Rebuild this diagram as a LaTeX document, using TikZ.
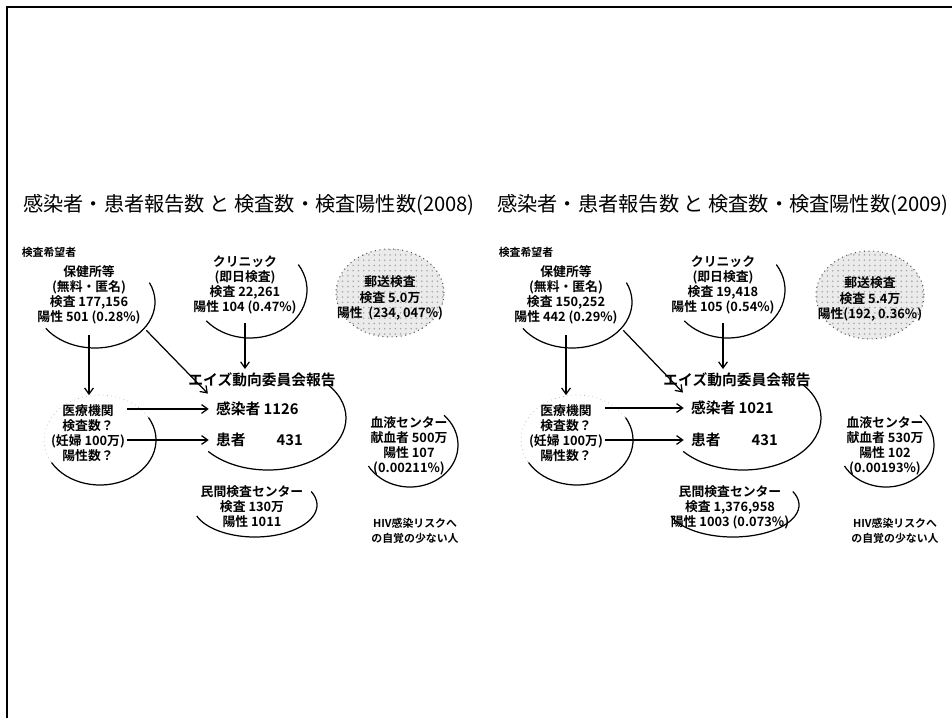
\documentclass[tikz,border=0pt]{standalone}
\usepackage{fontspec}
\newfontfamily\jp{Noto Sans CJK JP}
\newfontfamily\jpb{Noto Sans CJK JP Bold}
\usetikzlibrary{arrows.meta,patterns}

\tikzset{
  ttl/.style={font=\jp\fontsize{11.5}{13}\selectfont, anchor=west, inner sep=0pt},
  lbl/.style={font=\jpb\fontsize{7.3}{8.6}\selectfont, align=center, inner sep=1pt},
  tiny/.style={font=\jpb\fontsize{6.2}{8.2}\selectfont, align=center, inner sep=1pt},
  rep/.style={font=\jpb\fontsize{8.4}{10}\selectfont, inner sep=1pt},
  rim/.style={line width=0.7pt},
  faint/.style={gray!60, dotted, line width=0.4pt},
  mail/.style={gray!70!black, dotted, line width=0.6pt, fill=gray!16,
    postaction={pattern=dots, pattern color=gray!70}},
  arr/.style={-{Straight Barb[length=3.5pt,width=5pt]}, line width=0.7pt},
}

\begin{document}
\begin{tikzpicture}[x=0.02cm, y=0.02cm]
  \useasboundingbox (0,0) rectangle (952,-724);
  % frame
  \draw[line width=1.4pt] (7,-718) -- (7,-7) -- (952,-7);

  % ---- 2008 ----
  \node[ttl] (titleA) at (23,-205) {感染者・患者報告数 と 検査数・検査陽性数(2008)};
  \node[tiny] (kibouA) at (49,-252) {検査希望者};

  \draw[mail] (390,-293) ellipse [x radius=54, y radius=44];
  \node[lbl] (hokenA) at (89,-295) {保健所等\\(無料・匿名)\\検査 177,156\\陽性 501 (0.28\%)};
  \node[lbl] (clinicA) at (245,-285) {クリニック\\(即日検査)\\検査 22,261\\陽性 104 (0.47\%)};
  \node[lbl] (yusoA) at (390,-298) {郵送検査\\検査 5.0万\\陽性\ \ (234, 047\%)};
  \node[rep] (reportA) at (262,-380) {エイズ動向委員会報告};
  \node[rep, anchor=west] (kansenA) at (214,-409) {感染者 1126};
  \node[rep, anchor=west] (kanjaA) at (214,-440) {患者\hspace{2.1em}431};
  \node[lbl] (iryoA) at (88,-433) {医療機関\\検査数？\\(妊婦 100万)\\陽性数？};
  \node[lbl] (minkanA) at (252,-507) {民間検査センター\\検査 130万\\陽性 1011};
  \node[lbl] (ketsuekiA) at (409,-446) {血液センター\\献血者 500万\\陽性 107\\(0.00211\%)};
  \node[tiny] (riskA) at (415,-531) {HIV感染リスクへ\\の自覚の少ない人};

  % rims
  \draw[rim] (95,-302) ++(25:60 and 46) arc[start angle=25, end angle=-145, x radius=60, y radius=46];
  \draw[rim] (250,-290) ++(32:57 and 48) arc[start angle=32, end angle=-140, x radius=57, y radius=48];
  \draw[rim] (268,-418) ++(40:78 and 52) arc[start angle=40, end angle=-140, x radius=78, y radius=52];
  \draw[faint] (100,-440) ellipse [x radius=56, y radius=45];
  \draw[rim] (100,-440) ++(30:56 and 45) arc[start angle=30, end angle=-150, x radius=56, y radius=45];
  \draw[rim] (255,-505) ++(25:62 and 32) arc[start angle=25, end angle=-160, x radius=62, y radius=32];
  \draw[rim] (410,-445) ++(45:48 and 42) arc[start angle=45, end angle=-150, x radius=48, y radius=42];

  % arrows
  \draw[arr, shorten <=5pt, shorten >=4pt] (hokenA.south) -- (hokenA.south |- iryoA.north);
  \draw[arr, shorten <=3pt, shorten >=5pt] (hokenA.south east) -- (kansenA.north west);
  \draw[arr, shorten <=4pt, shorten >=1pt] (clinicA.south) -- (clinicA.south |- reportA.north);
  \draw[arr, shorten >=3pt] (iryoA.east |- kansenA.west) -- (kansenA.west);
  \draw[arr, shorten >=3pt] (iryoA.east |- kanjaA.west) -- (kanjaA.west);

  % ---- 2009 ----
  \node[ttl] (titleB) at (497,-205) {感染者・患者報告数 と 検査数・検査陽性数(2009)};
  \node[tiny] (kibouB) at (526,-252) {検査希望者};

  \draw[mail] (870,-295) ellipse [x radius=54, y radius=44];
  \node[lbl] (hokenB) at (566,-295) {保健所等\\(無料・匿名)\\検査 150,252\\陽性 442 (0.29\%)};
  \node[lbl] (clinicB) at (723,-285) {クリニック\\(即日検査)\\検査 19,418\\陽性 105 (0.54\%)};
  \node[lbl] (yusoB) at (870,-299) {郵送検査\\検査 5.4万\\陽性(192, 0.36\%)};
  \node[rep] (reportB) at (737,-380) {エイズ動向委員会報告};
  \node[rep, anchor=west] (kansenB) at (689,-408) {感染者 1021};
  \node[rep, anchor=west] (kanjaB) at (689,-440) {患者\hspace{2.1em}431};
  \node[lbl] (iryoB) at (566,-433) {医療機関\\検査数？\\(妊婦 100万)\\陽性数？};
  \node[lbl] (minkanB) at (730,-507) {民間検査センター\\検査 1,376,958\\陽性 1003 (0.073\%)};
  \node[lbl] (ketsuekiB) at (885,-446) {血液センター\\献血者 530万\\陽性 102\\(0.00193\%)};
  \node[tiny] (riskB) at (895,-531) {HIV感染リスクへ\\の自覚の少ない人};

  % rims
  \draw[rim] (572,-302) ++(25:60 and 46) arc[start angle=25, end angle=-145, x radius=60, y radius=46];
  \draw[rim] (728,-290) ++(32:57 and 48) arc[start angle=32, end angle=-140, x radius=57, y radius=48];
  \draw[rim] (743,-418) ++(40:78 and 52) arc[start angle=40, end angle=-140, x radius=78, y radius=52];
  \draw[faint] (577,-440) ellipse [x radius=56, y radius=45];
  \draw[rim] (577,-440) ++(30:56 and 45) arc[start angle=30, end angle=-150, x radius=56, y radius=45];
  \draw[rim] (733,-505) ++(25:66 and 32) arc[start angle=25, end angle=-160, x radius=66, y radius=32];
  \draw[rim] (886,-445) ++(45:48 and 42) arc[start angle=45, end angle=-150, x radius=48, y radius=42];

  % arrows
  \draw[arr, shorten <=5pt, shorten >=4pt] (hokenB.south) -- (hokenB.south |- iryoB.north);
  \draw[arr, shorten <=3pt, shorten >=5pt] (hokenB.south east) -- (kansenB.north west);
  \draw[arr, shorten <=4pt, shorten >=1pt] (clinicB.south) -- (clinicB.south |- reportB.north);
  \draw[arr, shorten >=3pt] (iryoB.east |- kansenB.west) -- (kansenB.west);
  \draw[arr, shorten >=3pt] (iryoB.east |- kanjaB.west) -- (kanjaB.west);
\end{tikzpicture}
\end{document}
